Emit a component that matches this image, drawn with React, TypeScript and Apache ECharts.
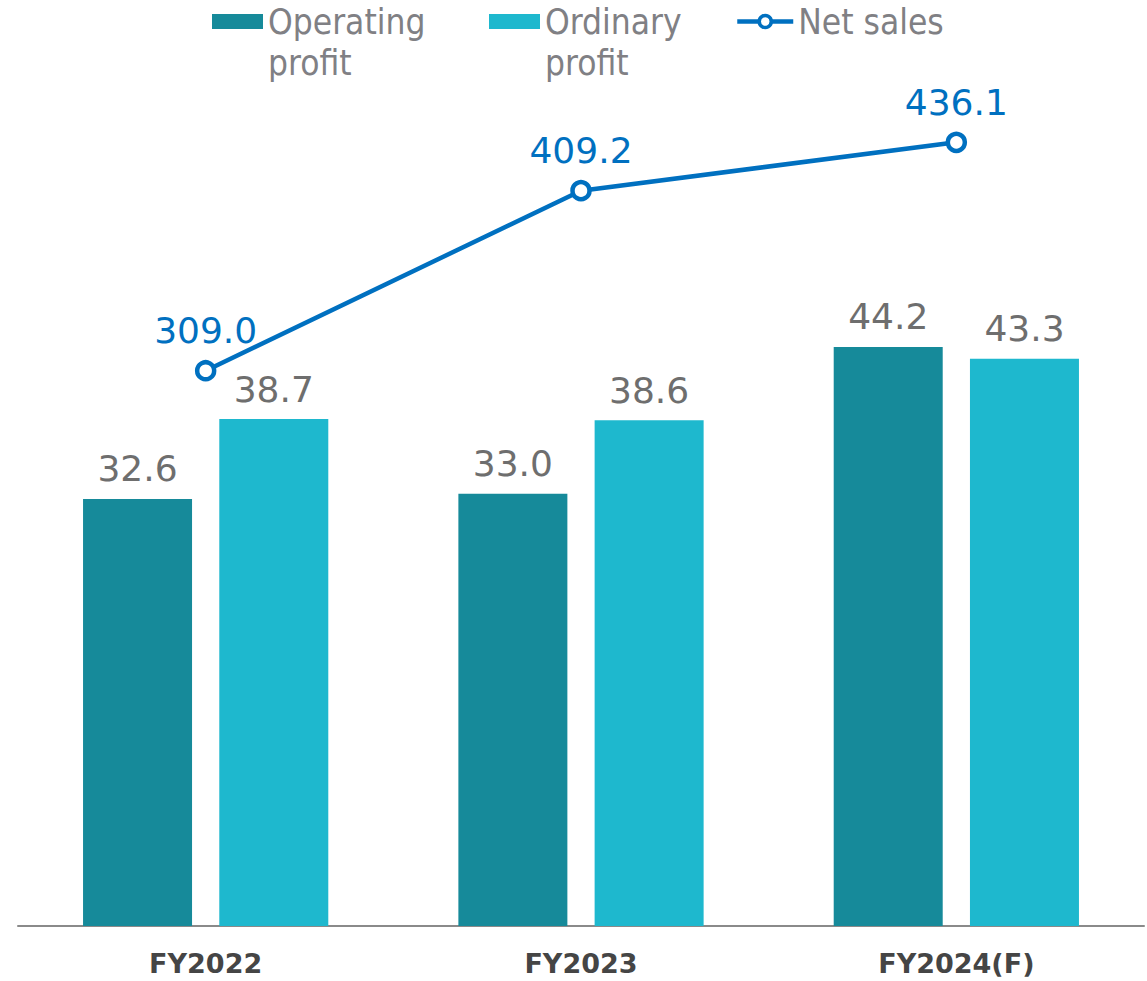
import React, { useEffect, useRef } from "react";
import * as echarts from "echarts";

const categories = ["FY2022", "FY2023", "FY2024(F)"];
const operatingProfit = [32.6, 33.0, 44.2];
const ordinaryProfit = [38.7, 38.6, 43.3];
const netSales = [309.0, 409.2, 436.1];

const SERIES_OP = "Operating profit";
const SERIES_ORD = "Ordinary profit";
const SERIES_NS = "Net sales";

const COLOR_OP = "#168A9A";
const COLOR_ORD = "#1EB8CE";
const COLOR_NS = "#0070C0";
const LABEL_GREY = "#6E6E6E";
const LEGEND_GREY = "#808084";

export default function App() {
  const ref = useRef<HTMLDivElement>(null);

  useEffect(() => {
    if (!ref.current) return;
    const chart = echarts.init(ref.current, undefined, { renderer: "svg" });

    const legendText = {
      color: LEGEND_GREY,
      fontFamily: "DejaVu Sans Condensed, DejaVu Sans",
      fontSize: 35,
      lineHeight: 41,
    };
    const fmt1 = (p: any) => Number(p.value).toFixed(1);

    chart.setOption({
      animation: false,
      backgroundColor: "#ffffff",
      legend: [
        {
          data: [SERIES_OP],
          left: 212,
          top: -40,
          padding: 0,
          itemWidth: 51,
          itemHeight: 15,
          icon: "rect",
          formatter: () => "\nOperating\nprofit",
          textStyle: legendText,
        },
        {
          data: [SERIES_ORD],
          left: 489,
          top: -40,
          padding: 0,
          itemWidth: 51,
          itemHeight: 15,
          icon: "rect",
          formatter: () => "\nOrdinary\nprofit",
          textStyle: legendText,
        },
        {
          data: [SERIES_NS],
          left: 735,
          top: 1,
          padding: 0,
          itemWidth: 56,
          itemHeight: 15,
          textStyle: legendText,
          lineStyle: { width: 4.5, color: COLOR_NS },
          itemStyle: { color: "#ffffff", borderColor: COLOR_NS, borderWidth: 3.5 },
        },
      ],
      grid: { left: 18, right: 3, top: 140, bottom: 55, containLabel: false },
      xAxis: {
        type: "category",
        data: categories,
        axisLine: { show: true, lineStyle: { color: "#8A8A8A", width: 2 } },
        axisTick: { show: false },
        axisLabel: {
          color: "#454545",
          fontFamily: "DejaVu Sans",
          fontWeight: "bold",
          fontSize: 27,
          margin: 24,
        },
      },
      yAxis: [
        { type: "value", min: 0, max: 60, show: false, splitLine: { show: false } },
        { type: "value", min: 0, max: 437.4, show: false, splitLine: { show: false } },
      ],
      series: [
        {
          name: SERIES_OP,
          type: "bar",
          data: operatingProfit,
          barWidth: 109,
          barGap: "25%",
          itemStyle: { color: COLOR_OP },
          label: {
            show: true,
            position: "top",
            distance: 12,
            formatter: fmt1,
            color: LABEL_GREY,
            fontFamily: "DejaVu Sans",
            fontSize: 36,
          },
        },
        {
          name: SERIES_ORD,
          type: "bar",
          data: ordinaryProfit,
          barWidth: 109,
          barGap: "25%",
          itemStyle: { color: COLOR_ORD },
          label: {
            show: true,
            position: "top",
            distance: 12,
            formatter: fmt1,
            color: LABEL_GREY,
            fontFamily: "DejaVu Sans",
            fontSize: 36,
          },
        },
        {
          name: SERIES_NS,
          type: "line",
          yAxisIndex: 1,
          data: netSales,
          z: 5,
          symbol: "circle",
          symbolSize: 17,
          lineStyle: { color: COLOR_NS, width: 4.5 },
          itemStyle: { color: "#ffffff", borderColor: COLOR_NS, borderWidth: 4.5 },
          label: {
            show: true,
            position: "top",
            distance: 11,
            formatter: fmt1,
            color: COLOR_NS,
            fontFamily: "DejaVu Sans",
            fontSize: 36,
          },
        },
      ],
    });

    return () => chart.dispose();
  }, []);

  return (
    <div
      ref={ref}
      style={{ position: "fixed", left: 0, top: 0, width: 1147, height: 981 }}
    />
  );
}
